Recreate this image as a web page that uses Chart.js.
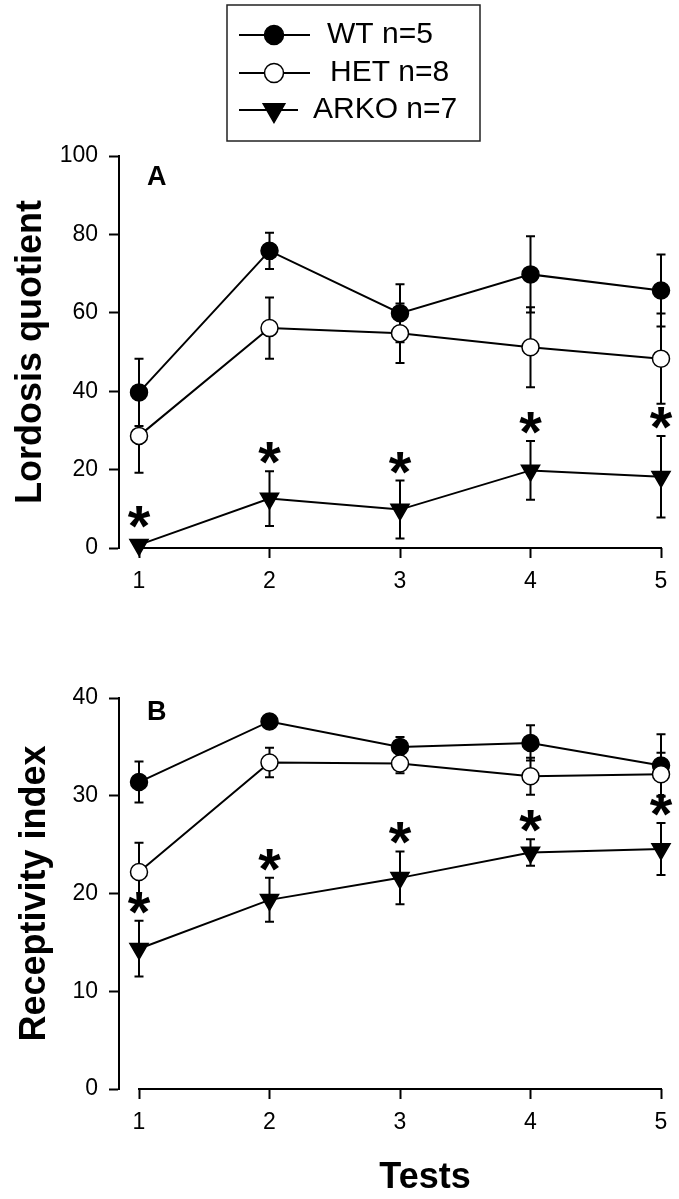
<!DOCTYPE html>
<html>
<head>
<meta charset="utf-8">
<script src="https://cdn.jsdelivr.net/npm/chart.js@4"></script>
<style>
  body { margin: 0; background: #fff; }
  .panel { position: absolute; left: 0; width: 679px; }
</style>
</head>
<body>
<div class="panel" style="top:0;height:600px"><canvas id="chartA"></canvas></div>
<div class="panel" style="top:600px;height:599px"><canvas id="chartB"></canvas></div>
<script>
// test sessions and groups
const tests = [1, 2, 3, 4, 5];
const groups = ['WT n=5', 'HET n=8', 'ARKO n=7'];

// Panel A - lordosis quotient (mean, sem)
const lqWT = [39.7, 75.8, 59.9, 69.8, 65.7];
const lqWTErr = [8.6, 4.6, 7.4, 9.7, 9.2];
const lqHET = [28.6, 56.1, 54.8, 51.2, 48.3];
const lqHETErr = [9.4, 7.8, 7.6, 10.2, 11.5];
const lqARKO = [0.8, 12.6, 9.8, 19.8, 18.2];
const lqARKOErr = [0, 7.0, 7.4, 7.5, 10.4];
const lqStars = [1, 1, 1, 1, 1];
const lqTicks = [0, 20, 40, 60, 80, 100];

// Panel B - receptivity index (mean, sem)
const riWT = [31.4, 37.6, 35.0, 35.4, 33.1];
const riWTErr = [2.1, 0.4, 1.0, 1.8, 3.2];
const riHET = [22.2, 33.4, 33.3, 32.0, 32.2];
const riHETErr = [3.0, 1.5, 1.0, 1.9, 2.2];
const riARKO = [14.35, 19.35, 21.6, 24.2, 24.55];
const riARKOErr = [2.85, 2.25, 2.7, 1.35, 2.65];
const riStars = [1, 1, 1, 1, 1];
const riTicks = [0, 10, 20, 30, 40];

Chart.defaults.font.family = '"Liberation Sans", Arial, sans-serif';
Chart.defaults.color = '#000';

const markers = [
  { pointStyle: 'circle', pointRadius: 8.5, pointBackgroundColor: '#000', pointRotation: 0, legendRadius: 9.5 },
  { pointStyle: 'circle', pointRadius: 8.5, pointBackgroundColor: '#fff', pointRotation: 0, legendRadius: 9.5 },
  { pointStyle: 'triangle', pointRadius: 10.5, pointBackgroundColor: '#000', pointRotation: 180, legendRadius: 12.5 }
];

function makeDatasets(values, errors) {
  return values.map((vals, i) => ({
    label: groups[i],
    data: tests.map((t, j) => ({ x: t, y: vals[j] })),
    errors: errors[i],
    borderColor: '#000',
    borderWidth: 2,
    pointBorderColor: '#000',
    pointBorderWidth: 1.5,
    pointStyle: markers[i].pointStyle,
    pointRadius: markers[i].pointRadius,
    pointRotation: markers[i].pointRotation,
    pointBackgroundColor: markers[i].pointBackgroundColor,
    tension: 0,
    clip: false,
    order: 3 - i
  }));
}

const errorBars = {
  id: 'errorBars',
  beforeDatasetsDraw(chart) {
    const ctx = chart.ctx, y = chart.scales.y;
    ctx.save();
    ctx.strokeStyle = '#000';
    ctx.lineWidth = 2;
    chart.data.datasets.forEach((ds, i) => {
      const meta = chart.getDatasetMeta(i);
      meta.data.forEach((pt, j) => {
        const e = ds.errors[j];
        if (!e) return;
        const v = ds.data[j].y;
        const top = y.getPixelForValue(v + e), bot = y.getPixelForValue(v - e);
        ctx.beginPath();
        ctx.moveTo(pt.x, top); ctx.lineTo(pt.x, bot);
        ctx.moveTo(pt.x - 4.5, top); ctx.lineTo(pt.x + 4.5, top);
        ctx.moveTo(pt.x - 4.5, bot); ctx.lineTo(pt.x + 4.5, bot);
        ctx.stroke();
      });
    });
    ctx.restore();
  }
};

const extras = {
  id: 'extras',
  afterDraw(chart, args, opts) {
    const ctx = chart.ctx, xs = chart.scales.x, ys = chart.scales.y;
    const area = chart.chartArea;
    ctx.save();
    ctx.fillStyle = '#000';
    ctx.strokeStyle = '#000';

    // x axis line only between first and last test
    ctx.lineWidth = 2;
    ctx.beginPath();
    ctx.moveTo(xs.getPixelForValue(tests[0]) - 1, area.bottom);
    ctx.lineTo(xs.getPixelForValue(tests[tests.length - 1]) + 1, area.bottom);
    ctx.stroke();

    // significance stars above ARKO
    const ds = chart.data.datasets[2], meta = chart.getDatasetMeta(2);
    ctx.font = 'bold 58px "Liberation Sans", Arial, sans-serif';
    ctx.textAlign = 'center';
    ctx.textBaseline = 'alphabetic';
    const m = ctx.measureText('*');
    const mid = (m.actualBoundingBoxAscent - m.actualBoundingBoxDescent) / 2;
    opts.stars.forEach((s, j) => {
      if (!s) return;
      const pt = meta.data[j];
      const top = Math.min(ys.getPixelForValue(ds.data[j].y + ds.errors[j]), pt.y - 10);
      ctx.fillText('*', pt.x, top - 18 + mid);
    });

    // panel letter
    ctx.font = 'bold 27px "Liberation Sans", Arial, sans-serif';
    ctx.textAlign = 'left';
    ctx.textBaseline = 'middle';
    ctx.fillText(opts.letter, 147, opts.letterY);

    if (opts.legend) {
      ctx.lineWidth = 1.5;
      ctx.strokeStyle = '#222';
      ctx.strokeRect(227, 5, 253, 136);
      const rowY = [35, 73, 110], lineEnd = [310, 310, 298], textX = [327, 330, 313];
      chart.data.datasets.forEach((d, i) => {
        ctx.strokeStyle = '#000';
        ctx.lineWidth = 2;
        ctx.beginPath();
        ctx.moveTo(239, rowY[i]); ctx.lineTo(lineEnd[i], rowY[i]);
        ctx.stroke();
        ctx.fillStyle = markers[i].pointBackgroundColor;
        ctx.lineWidth = 1.5;
        Chart.helpers.drawPoint(ctx, {
          pointStyle: markers[i].pointStyle,
          rotation: markers[i].pointRotation,
          radius: markers[i].legendRadius,
          borderWidth: 1.5
        }, 274, rowY[i]);
        ctx.fillStyle = '#000';
        ctx.font = '30px "Liberation Sans", Arial, sans-serif';
        ctx.textBaseline = 'middle';
        ctx.fillText(d.label, textX[i], rowY[i]);
      });
    }

    if (opts.xTitle) {
      ctx.font = 'bold 36px "Liberation Sans", Arial, sans-serif';
      ctx.textAlign = 'center';
      ctx.textBaseline = 'middle';
      ctx.fillText(opts.xTitle, 425, 578);
    }
    ctx.restore();
  }
};

function makeChart(id, datasets, yTicks, yTitle, cfg) {
  return new Chart(document.getElementById(id), {
    type: 'line',
    data: { datasets: datasets },
    plugins: [errorBars, extras],
    options: {
      responsive: true,
      maintainAspectRatio: false,
      animation: false,
      layout: { padding: { top: cfg.top, right: 18, left: 0, bottom: 0 } },
      plugins: {
        legend: { display: false },
        tooltip: { enabled: false },
        extras: cfg.extras
      },
      scales: {
        x: {
          type: 'linear',
          min: 1 - 20 / 130.5,
          max: tests[tests.length - 1],
          afterBuildTicks: s => { s.ticks = tests.map(v => ({ value: v })); },
          afterFit: s => { s.height = cfg.xHeight; },
          border: { display: false },
          grid: { drawOnChartArea: false, tickLength: 10, tickWidth: 2, tickColor: '#000' },
          ticks: { font: { size: 23 }, padding: 10, maxRotation: 0 }
        },
        y: {
          min: yTicks[0],
          max: yTicks[yTicks.length - 1],
          afterBuildTicks: s => { s.ticks = yTicks.map(v => ({ value: v })); },
          afterFit: s => { s.width = 119; },
          border: { display: true, color: '#000', width: 2 },
          grid: { drawOnChartArea: false, tickLength: 10, tickWidth: 2, tickColor: '#000' },
          ticks: { font: { size: 23 }, padding: 11 },
          title: {
            display: true,
            text: yTitle,
            font: { size: 36, weight: 'bold' },
            padding: { top: cfg.titlePad, bottom: 0 }
          }
        }
      }
    }
  });
}

makeChart('chartA',
  makeDatasets([lqWT, lqHET, lqARKO], [lqWTErr, lqHETErr, lqARKOErr]),
  lqTicks, 'Lordosis quotient',
  { top: 156, xHeight: 52, titlePad: 9.5,
    extras: { letter: 'A', letterY: 177.5, stars: lqStars, legend: true } });

makeChart('chartB',
  makeDatasets([riWT, riHET, riARKO], [riWTErr, riHETErr, riARKOErr]),
  riTicks, 'Receptivity index',
  { top: 98, xHeight: 110, titlePad: 13,
    extras: { letter: 'B', letterY: 113, stars: riStars, legend: false, xTitle: 'Tests' } });
</script>
</body>
</html>
